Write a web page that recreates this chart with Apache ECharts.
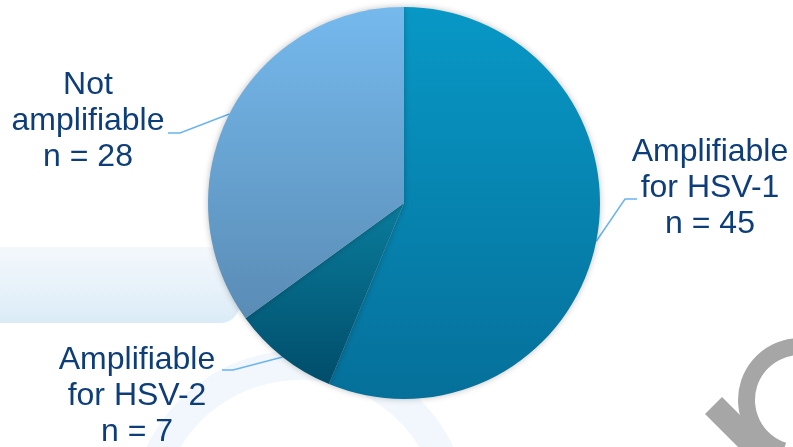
<!DOCTYPE html>
<html>
<head>
<meta charset="utf-8">
<script src="https://cdn.jsdelivr.net/npm/echarts@6/dist/echarts.min.js"></script>
<style>
html,body{margin:0;padding:0;background:#ffffff;}
#chart{width:793px;height:447px;}
</style>
</head>
<body>
<div id="chart"></div>
<script>
const categories = ['Amplifiable\nfor HSV-1', 'Amplifiable\nfor HSV-2', 'Not\namplifiable'];
const counts = [45, 7, 28];

const chart = echarts.init(document.getElementById('chart'), null, {renderer: 'canvas'});

const sliceColors = [
  new echarts.graphic.LinearGradient(0, 0, 0, 1, [{offset: 0, color: '#0898c6'}, {offset: 1, color: '#05709a'}]),
  new echarts.graphic.LinearGradient(0, 0, 0, 1, [{offset: 0, color: '#0a7c9c'}, {offset: 1, color: '#004d6a'}]),
  new echarts.graphic.LinearGradient(0, 0, 0, 1, [{offset: 0, color: '#75b9ed'}, {offset: 1, color: '#5a8cb5'}])
];

const labelSpots = [
  {x: 710, y: 188, bend: [625, 199], end: [637, 199]},
  {x: 137, y: 396, bend: [233, 370], end: [222, 370]},
  {x: 88, y: 121, bend: [180, 133], end: [168, 133]}
];

const pieData = categories.map((c, i) => ({
  name: c,
  value: counts[i],
  itemStyle: {color: sliceColors[i]}
}));

chart.setOption({
  backgroundColor: '#ffffff',
  animation: false,
  graphic: [
    {type: 'rect', z: -10, shape: {x: -20, y: 247, width: 260, height: 76, r: 20},
      style: {fill: new echarts.graphic.LinearGradient(0, 0, 0, 1, [
        {offset: 0, color: 'rgba(235,243,250,0.6)'},
        {offset: 1, color: 'rgba(214,233,246,0.9)'}])}},
    {type: 'sector', z: -10, shape: {cx: 300, cy: 520, r: 170, r0: 140, startAngle: Math.PI * 1.05, endAngle: Math.PI * 1.95},
      style: {fill: 'rgba(215,232,245,0.35)'}},
    {type: 'sector', z: 5, shape: {cx: 800, cy: 400, r: 62, r0: 45, startAngle: Math.PI * 0.6, endAngle: Math.PI * 1.6},
      style: {fill: '#a6a6a6'}},
    {type: 'polygon', z: 5, shape: {points: [[705, 414], [722, 397], [772, 447], [738, 447]]},
      style: {fill: '#a6a6a6'}}
  ],
  series: [{
    type: 'pie',
    center: [404, 203],
    radius: 196,
    startAngle: 90,
    clockwise: true,
    avoidLabelOverlap: false,
    itemStyle: {borderWidth: 0, shadowBlur: 6, shadowColor: 'rgba(0,0,0,0.25)'},
    emphasis: {disabled: true},
    label: {
      show: true,
      position: 'outside',
      formatter: p => p.name + '\nn = ' + p.value,
      color: '#0e3e7a',
      fontFamily: '"Liberation Sans", Arial, sans-serif',
      fontSize: 32,
      lineHeight: 36,
      align: 'center'
    },
    labelLine: {
      show: true,
      length: 20,
      length2: 12,
      smooth: false,
      lineStyle: {color: '#6ab4f0', width: 1.5}
    },
    labelLayout: function (p) {
      const s = labelSpots[p.dataIndex];
      const start = (p.labelLinePoints && p.labelLinePoints[0]) ? p.labelLinePoints[0] : s.bend;
      return {
        x: s.x,
        y: s.y,
        align: 'center',
        verticalAlign: 'middle',
        labelLinePoints: [start, s.bend, s.end]
      };
    },
    data: pieData
  }]
});
</script>
</body>
</html>
